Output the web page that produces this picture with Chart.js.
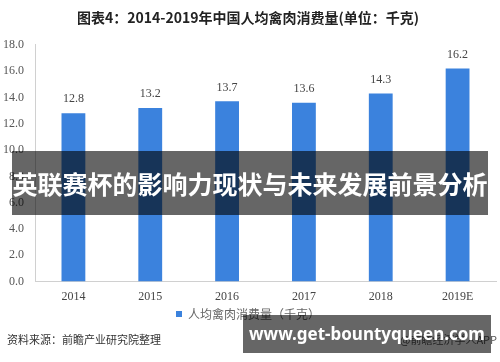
<!DOCTYPE html>
<html>
<head>
<meta charset="utf-8">
<script src="https://cdn.jsdelivr.net/npm/chart.js@4"></script>
<style>
  html, body { margin: 0; padding: 0; background: #fff; }
  #wrap { position: relative; width: 500px; height: 362px; overflow: hidden; }
  #myChart { position: absolute; left: 0; top: 0; }
  .source { position: absolute; left: 7px; top: 331px; font: 11px "Noto Sans CJK SC", sans-serif; color: #333; }
  .credit { position: absolute; left: 400px; top: 331px; font: 11px "Noto Sans CJK SC", sans-serif; color: #555; }
  .banner { position: absolute; left: 12px; top: 151px; width: 476px; height: 64px; background: rgba(0,0,0,0.6);
            color: #fff; font: bold 25px "Noto Sans CJK SC", sans-serif; line-height: 64px; text-align: center; white-space: nowrap; }
  .url { position: absolute; left: 243px; top: 315px; width: 248px; height: 38px; background: rgba(0,0,0,0.6);
         color: #fff; font: bold 17px "Noto Sans", sans-serif; line-height: 38px; text-align: center; white-space: nowrap; }
</style>
</head>
<body>
<div id="wrap">
  <canvas id="myChart" width="500" height="362"></canvas>
  <div class="source">资料来源：前瞻产业研究院整理</div>
  <div class="credit">@前瞻经济学人APP</div>
  <div class="banner">英联赛杯的影响力现状与未来发展前景分析</div>
  <div class="url">www.get-bountyqueen.com</div>
</div>
<script>
const years = ['2014', '2015', '2016', '2017', '2018', '2019E'];
const poultryPerCapita = [12.8, 13.2, 13.7, 13.6, 14.3, 16.2];
const seriesName = '人均禽肉消费量（千克）';
const chartTitle = '图表4：2014-2019年中国人均禽肉消费量(单位：千克)';

// draw value labels over each bar
const valueLabels = {
    id: 'valueLabels',
    afterDatasetsDraw(chart) {
        const ctx = chart.ctx;
        const meta = chart.getDatasetMeta(0);
        ctx.save();
        ctx.font = '12px "Liberation Serif", serif';
        ctx.fillStyle = '#444';
        ctx.textAlign = 'center';
        ctx.textBaseline = 'bottom';
        meta.data.forEach((bar, i) => {
            ctx.fillText(poultryPerCapita[i].toFixed(1), bar.x, bar.y - 8);
        });
        ctx.restore();
    }
};

const ctx = document.getElementById('myChart');
new Chart(ctx, {
    type: 'bar',
    data: {
        labels: years,
        datasets: [{
            label: seriesName,
            data: poultryPerCapita,
            backgroundColor: '#3b82dd',
            borderWidth: 0,
            categoryPercentage: 1.0,
            barPercentage: 0.31
        }]
    },
    options: {
        responsive: false,
        animation: false,
        layout: { padding: { left: 0, right: 4, bottom: 32 } },
        scales: {
            x: {
                grid: { display: false },
                border: { color: '#d0d0d0' },
                ticks: { color: '#444', font: { family: 'Liberation Serif', size: 12 }, padding: 0 }
            },
            y: {
                min: 0,
                max: 18,
                ticks: {
                    stepSize: 2,
                    color: '#555',
                    font: { family: 'Liberation Serif', size: 12 },
                    padding: 3,
                    callback: (value) => value.toFixed(1)
                },
                grid: { display: false },
                border: { color: '#d0d0d0' }
            }
        },
        plugins: {
            title: {
                display: true,
                text: chartTitle,
                color: '#222',
                font: { family: 'Noto Sans CJK SC', size: 14, weight: 'bold' },
                padding: { top: 9, bottom: 19 }
            },
            legend: {
                position: 'bottom',
                labels: {
                    boxWidth: 6,
                    boxHeight: 6,
                    padding: 4,
                    color: '#666',
                    font: { family: 'Noto Sans CJK SC', size: 12 }
                }
            },
            tooltip: { enabled: false }
        }
    },
    plugins: [valueLabels]
});
</script>
</body>
</html>
